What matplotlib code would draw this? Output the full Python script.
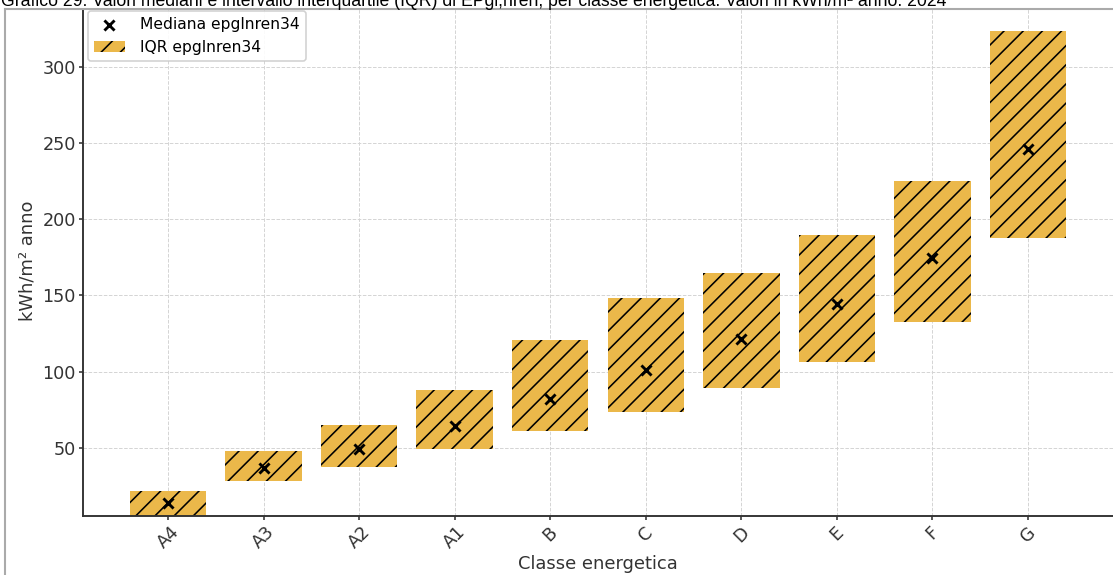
import matplotlib
matplotlib.use("Agg")
import matplotlib.pyplot as plt
from matplotlib.lines import Line2D
from matplotlib.patches import Rectangle
import numpy as np

# classi energetiche e quartili di EPgl,nren (kWh/m² anno)
classi = ["A4", "A3", "A2", "A1", "B", "C", "D", "E", "F", "G"]
q1 = [5.4, 28.5, 37.5, 49.5, 61.1, 73.4, 89.3, 106.6, 132.4, 187.5]
mediana = [13.7, 37.0, 49.1, 64.4, 81.9, 101.1, 121.2, 144.2, 174.4, 246.0]
q3 = [21.8, 48.2, 64.9, 87.8, 120.8, 148.1, 164.5, 189.6, 225.0, 323.6]

titolo = ("Grafico 29: Valori mediani e intervallo interquartile (IQR) di EPgl,nren, "
          "per classe energetica. Valori in kWh/m² anno. 2024")

W, H, DPI = 1113, 575, 115
fig = plt.figure(figsize=(W / DPI, H / DPI), dpi=DPI)
ax = fig.add_axes([83 / W, 59 / H, 1030 / W, 509.5 / H])

x = np.arange(len(classi))
altezza = np.array(q3) - np.array(q1)

med = ax.scatter(x, mediana, marker="x", color="black", s=40, linewidths=1.8,
                 zorder=3, label="Mediana epglnren34")
iqr = ax.bar(x, altezza, bottom=q1, width=0.8, color="#EBB84A", hatch="//",
             zorder=2, label="IQR epglnren34")

ax.set_xticks(x, classi, rotation=45)
ax.set_yticks([50, 100, 150, 200, 250, 300])
ax.tick_params(colors="#333333", labelsize=11, length=2.5, width=1, pad=2)
ax.set_xlabel("Classe energetica", fontsize=11.2, color="#333333", labelpad=1.5)
ax.set_ylabel("kWh/m² anno", fontsize=11.2, color="#333333")

ax.grid(True, linestyle="--", linewidth=0.6, color="#d4d4d4")
ax.set_axisbelow(True)
for s in ["top", "right"]:
    ax.spines[s].set_visible(False)
for s in ["left", "bottom"]:
    ax.spines[s].set_color("#333333")
    ax.spines[s].set_linewidth(1.2)

ax.legend(handles=[med, iqr], loc="upper left", fontsize=9.7, framealpha=0.9,
          edgecolor="#cccccc", borderaxespad=0.3, handletextpad=1.0)

# striscia superiore con didascalia e cornice
fig.add_artist(Rectangle((0, 1 - 9 / H), 1, 9 / H, transform=fig.transFigure,
                         facecolor="white", edgecolor="none", zorder=5))
fig.text(1 / W, 1 - 6 / H, titolo, fontfamily="Liberation Sans", fontsize=11,
         va="baseline", ha="left", color="black", zorder=6)
fig.add_artist(Line2D([5 / W, 5 / W], [0, 1 - 9 / H], transform=fig.transFigure,
                      color="#aaaaaa", lw=1.3, zorder=6))
fig.add_artist(Line2D([5 / W, 1], [1 - 9 / H, 1 - 9 / H], transform=fig.transFigure,
                      color="#aaaaaa", lw=1.3, zorder=6))

fig.savefig("out.png", dpi=DPI)
